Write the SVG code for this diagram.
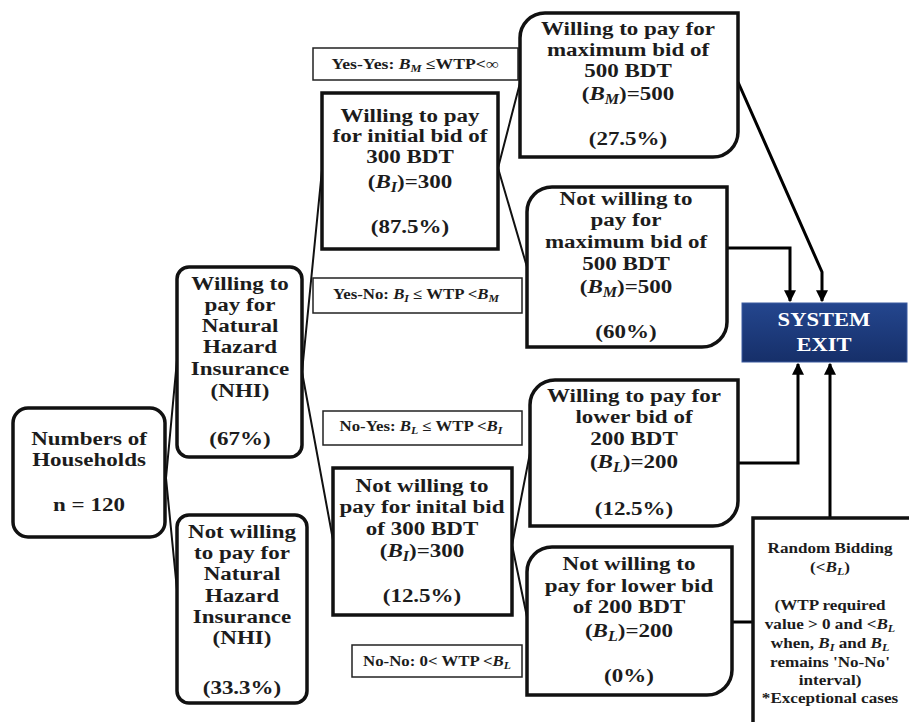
<svg xmlns="http://www.w3.org/2000/svg" width="909" height="722" viewBox="0 0 909 722">
<defs>
<style>
.b{fill:#fff;stroke:#111;stroke-width:3.5}
.lb{fill:#fff;stroke:#222;stroke-width:1.5}
.n{font-family:"Liberation Serif","Times New Roman",serif;font-weight:bold;font-size:19.5px;text-anchor:middle;fill:#1c1c1c}
.r{font-family:"Liberation Serif","Times New Roman",serif;font-weight:bold;font-size:14.5px;text-anchor:middle;fill:#1c1c1c}
.l{font-family:"Liberation Serif","Times New Roman",serif;font-weight:bold;font-size:14.5px;text-anchor:middle;fill:#1c1c1c}
.x{font-family:"Liberation Serif","Times New Roman",serif;font-weight:bold;font-size:18.5px;text-anchor:middle;fill:#fff}
.mi{font-style:italic}
.sub{font-style:italic;font-size:70%}
.c{fill:none;stroke:#111;stroke-width:2}
.a{fill:none;stroke:#000;stroke-width:3}
</style>
<marker id="ah" viewBox="0 0 10 10" refX="9" refY="5" markerWidth="12" markerHeight="12" markerUnits="userSpaceOnUse" orient="auto">
<path d="M0,0 L10,5 L0,10 z" fill="#000"/>
</marker>
<linearGradient id="gx" x1="0" y1="0" x2="0" y2="1">
<stop offset="0" stop-color="#24468e"/>
<stop offset="1" stop-color="#162f69"/>
</linearGradient>
</defs>
<rect width="909" height="722" fill="#fff"/>

<g id="connectors">
<path class="c" d="M166,478 L177,360 M166,478 L177,590"/>
<path class="c" d="M302,372 L322,170 M302,372 L333,540"/>
<path class="c" d="M498,168 L520,83 M498,168 L527,267"/>
<path class="c" d="M512,545 L530,453 M512,545 L527,617"/>
<polyline class="a" points="738,82 822,272 822,301" marker-end="url(#ah)"/>
<polyline class="a" points="727,248 790,248 790,301" marker-end="url(#ah)"/>
<polyline class="a" points="738,463 798,463 798,364" marker-end="url(#ah)"/>
<polyline class="a" points="830,518 830,364" marker-end="url(#ah)"/>
<line class="a" x1="732" y1="622" x2="753" y2="622"/>
</g>

<g id="n-households">
<rect class="b" x="13" y="408" width="152" height="129" rx="15"/>
<g transform="translate(89 0) scale(1.18 1)">
<text class="n" x="0" y="445">Numbers of</text>
<text class="n" x="0" y="466">Households</text>
<text class="n" x="0" y="511">n = 120</text>
</g>
</g>

<g id="n-willing-nhi">
<rect class="b" x="177" y="267" width="125" height="190" rx="12"/>
<g transform="translate(240 0) scale(1.18 1)">
<text class="n" x="0" y="290">Willing to</text>
<text class="n" x="0" y="311">pay for</text>
<text class="n" x="0" y="332">Natural</text>
<text class="n" x="0" y="353">Hazard</text>
<text class="n" x="0" y="375">Insurance</text>
<text class="n" x="0" y="397">(NHI)</text>
<text class="n" x="0" y="445">(67%)</text>
</g>
</g>

<g id="n-notwilling-nhi">
<rect class="b" x="177" y="515" width="130" height="188" rx="12"/>
<g transform="translate(242 0) scale(1.18 1)">
<text class="n" x="0" y="538">Not willing</text>
<text class="n" x="0" y="559">to pay for</text>
<text class="n" x="0" y="580">Natural</text>
<text class="n" x="0" y="602">Hazard</text>
<text class="n" x="0" y="623">Insurance</text>
<text class="n" x="0" y="644">(NHI)</text>
<text class="n" x="0" y="694">(33.3%)</text>
</g>
</g>

<g id="lbl-yesyes">
<rect class="lb" x="313" y="48" width="205" height="32"/>
<g transform="translate(415 0) scale(1.22 1)">
<text class="l" x="0" y="69">Yes-Yes: <tspan class="mi">B</tspan><tspan class="sub" dy="3">M</tspan><tspan dy="-3"> ≤WTP&lt;∞</tspan></text>
</g>
</g>

<g id="n-willing-initial">
<rect class="b" x="322" y="93" width="176" height="156"/>
<g transform="translate(410 0) scale(1.18 1)">
<text class="n" x="0" y="122">Willing to pay</text>
<text class="n" x="0" y="142">for initial bid of</text>
<text class="n" x="0" y="163">300 BDT</text>
<text class="n" x="0" y="188">(<tspan class="mi">B</tspan><tspan class="sub" dy="4">I</tspan><tspan dy="-4">)=300</tspan></text>
<text class="n" x="0" y="233">(87.5%)</text>
</g>
</g>

<g id="lbl-yesno">
<rect class="lb" x="313" y="278" width="209" height="35"/>
<g transform="translate(416 0) scale(1.16 1)">
<text class="l" x="0" y="299">Yes-No: <tspan class="mi">B</tspan><tspan class="sub" dy="3">I</tspan><tspan dy="-3"> ≤ WTP &lt;</tspan><tspan class="mi">B</tspan><tspan class="sub" dy="3">M</tspan></text>
</g>
</g>

<g id="lbl-noyes">
<rect class="lb" x="323" y="411" width="199" height="34"/>
<g transform="translate(421 0) scale(1.16 1)">
<text class="l" x="0" y="431">No-Yes: <tspan class="mi">B</tspan><tspan class="sub" dy="3">L</tspan><tspan dy="-3"> ≤ WTP &lt;</tspan><tspan class="mi">B</tspan><tspan class="sub" dy="3">I</tspan></text>
</g>
</g>

<g id="n-notwilling-initial">
<rect class="b" x="333" y="468" width="179" height="147"/>
<g transform="translate(422 0) scale(1.18 1)">
<text class="n" x="0" y="492">Not willing to</text>
<text class="n" x="0" y="513">pay for inital bid</text>
<text class="n" x="0" y="535">of 300 BDT</text>
<text class="n" x="0" y="557">(<tspan class="mi">B</tspan><tspan class="sub" dy="4">I</tspan><tspan dy="-4">)=300</tspan></text>
<text class="n" x="0" y="602">(12.5%)</text>
</g>
</g>

<g id="lbl-nono">
<rect class="lb" x="352" y="645" width="170" height="32"/>
<g transform="translate(437 0) scale(1.16 1)">
<text class="l" x="0" y="666">No-No: 0&lt; WTP &lt;<tspan class="mi">B</tspan><tspan class="sub" dy="3">L</tspan></text>
</g>
</g>

<g id="n-willing-max">
<path class="b" d="M520,38 A25,25 0 0 1 545,13 L738,13 L738,132 A25,25 0 0 1 713,157 L520,157 Z"/>
<g transform="translate(628 0) scale(1.18 1)">
<text class="n" x="0" y="35">Willing to pay for</text>
<text class="n" x="0" y="56">maximum bid of</text>
<text class="n" x="0" y="77">500 BDT</text>
<text class="n" x="0" y="100">(<tspan class="mi">B</tspan><tspan class="sub" dy="4">M</tspan><tspan dy="-4">)=500</tspan></text>
<text class="n" x="0" y="145">(27.5%)</text>
</g>
</g>

<g id="n-notwilling-max">
<path class="b" d="M527,212 A25,25 0 0 1 552,187 L727,187 L727,322 A25,25 0 0 1 702,347 L527,347 Z"/>
<g transform="translate(626 0) scale(1.18 1)">
<text class="n" x="0" y="205">Not willing to</text>
<text class="n" x="0" y="226">pay for</text>
<text class="n" x="0" y="248">maximum bid of</text>
<text class="n" x="0" y="270">500 BDT</text>
<text class="n" x="0" y="293">(<tspan class="mi">B</tspan><tspan class="sub" dy="4">M</tspan><tspan dy="-4">)=500</tspan></text>
<text class="n" x="0" y="338">(60%)</text>
</g>
</g>

<g id="n-willing-lower">
<path class="b" d="M530,405 A25,25 0 0 1 555,380 L738,380 L738,501 A25,25 0 0 1 713,526 L530,526 Z"/>
<g transform="translate(634 0) scale(1.18 1)">
<text class="n" x="0" y="402">Willing to pay for</text>
<text class="n" x="0" y="423">lower bid of</text>
<text class="n" x="0" y="445">200 BDT</text>
<text class="n" x="0" y="468">(<tspan class="mi">B</tspan><tspan class="sub" dy="4">L</tspan><tspan dy="-4">)=200</tspan></text>
<text class="n" x="0" y="515">(12.5%)</text>
</g>
</g>

<g id="n-notwilling-lower">
<path class="b" d="M527,572 A25,25 0 0 1 552,547 L732,547 L732,670 A25,25 0 0 1 707,695 L527,695 Z"/>
<g transform="translate(629 0) scale(1.18 1)">
<text class="n" x="0" y="570">Not willing to</text>
<text class="n" x="0" y="592">pay for lower bid</text>
<text class="n" x="0" y="613">of 200 BDT</text>
<text class="n" x="0" y="637">(<tspan class="mi">B</tspan><tspan class="sub" dy="4">L</tspan><tspan dy="-4">)=200</tspan></text>
<text class="n" x="0" y="682">(0%)</text>
</g>
</g>

<g id="n-system-exit">
<rect x="742" y="303" width="165" height="59" fill="url(#gx)" stroke="#3a5aa0" stroke-width="1"/>
<g transform="translate(824 0) scale(1.22 1)">
<text class="x" x="0" y="326">SYSTEM</text>
<text class="x" x="0" y="351">EXIT</text>
</g>
</g>

<g id="n-random">
<rect class="b" x="753" y="518" width="170" height="220" stroke-width="4"/>
<g transform="translate(830 0) scale(1.18 1)">
<text class="r" x="0" y="553">Random Bidding</text>
<text class="r" x="0" y="572">(&lt;<tspan class="mi">B</tspan><tspan class="sub" dy="3">L</tspan><tspan dy="-3">)</tspan></text>
<text class="r" x="0" y="610">(WTP required</text>
<text class="r" x="0" y="629">value &gt; 0 and &lt;<tspan class="mi">B</tspan><tspan class="sub" dy="3">L</tspan></text>
<text class="r" x="0" y="648">when, <tspan class="mi">B</tspan><tspan class="sub" dy="3">I</tspan><tspan dy="-3"> and </tspan><tspan class="mi">B</tspan><tspan class="sub" dy="3">L</tspan></text>
<text class="r" x="0" y="667">remains 'No-No'</text>
<text class="r" x="0" y="685">interval)</text>
<text class="r" x="0" y="703">*Exceptional cases</text>
</g>
</g>
</svg>
